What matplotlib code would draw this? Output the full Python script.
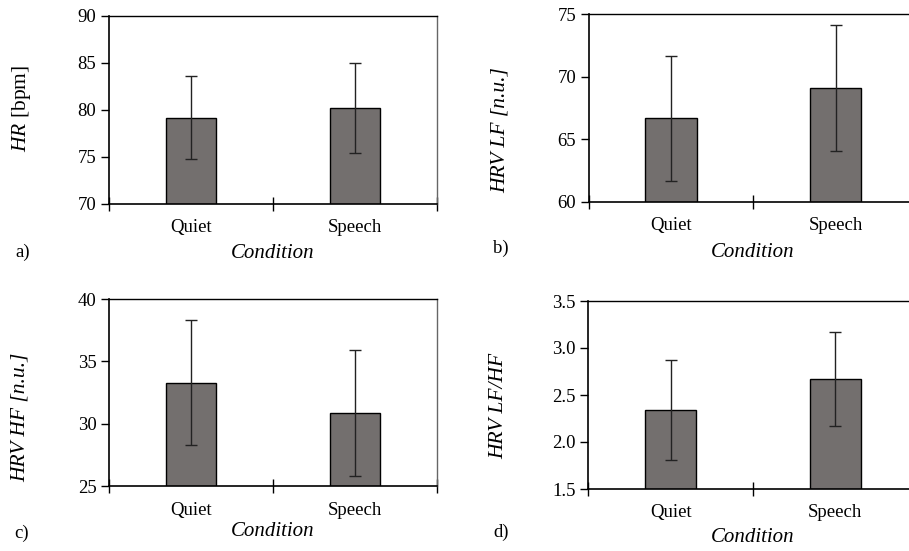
import matplotlib
matplotlib.use("Agg")
import matplotlib.pyplot as plt

plt.rcParams['font.family'] = ['Liberation Serif', 'DejaVu Serif']
plt.rcParams['mathtext.fontset'] = 'custom'
plt.rcParams['mathtext.rm'] = 'Liberation Serif'
plt.rcParams['mathtext.it'] = 'Liberation Serif:italic'

categories = ["Quiet", "Speech"]
hr_mean = [79.2, 80.2]
hr_err = [4.4, 4.8]
lf_mean = [66.7, 69.1]
lf_err = [5.0, 5.05]
hf_mean = [33.3, 30.9]
hf_err = [5.0, 5.05]
ratio_mean = [2.34, 2.67]
ratio_err = [0.53, 0.5]

W, H = 909, 551
fig = plt.figure(figsize=(W / 100, H / 100), dpi=100)

def px_axes(left, top, right, bottom):
    return fig.add_axes([left / W, 1 - bottom / H, (right - left) / W, (bottom - top) / H])

def ftext(x, y, s, **kw):
    fig.text(x / W, 1 - y / H, s, ha="center", va="center", **kw)

panels = [
    dict(rect=(109, 16, 437, 204), mean=hr_mean, err=hr_err, ylim=(70, 90), yticks=[70, 75, 80, 85, 90],
         fmt="{:.0f}", ylabel=r"$\mathit{HR}$ [bpm]", ylab_style="normal", ylab_xy=(21.5, 108),
         xlab_xy=(273, 254), tag="a)", tag_xy=(23, 252), right_spine=True),
    dict(rect=(588.7, 14.3, 917.9, 202), mean=lf_mean, err=lf_err, ylim=(60, 75), yticks=[60, 65, 70, 75],
         fmt="{:.0f}", ylabel="HRV LF [n.u.]", ylab_style="italic", ylab_xy=(500, 130),
         xlab_xy=(753, 252.5), tag="b)", tag_xy=(501, 248), right_spine=False),
    dict(rect=(109, 299, 437, 486.3), mean=hf_mean, err=hf_err, ylim=(25, 40), yticks=[25, 30, 35, 40],
         fmt="{:.0f}", ylabel="HRV HF [n.u.]", ylab_style="italic", ylab_xy=(20, 417.5),
         xlab_xy=(273, 532), tag="c)", tag_xy=(22, 533), right_spine=True),
    dict(rect=(588.3, 301, 917.5, 489), mean=ratio_mean, err=ratio_err, ylim=(1.5, 3.5),
         yticks=[1.5, 2.0, 2.5, 3.0, 3.5], fmt="{:.1f}", ylabel="HRV LF/HF", ylab_style="italic",
         ylab_xy=(498.5, 406), xlab_xy=(753, 538), tag="d)", tag_xy=(501, 532), right_spine=False),
]

xpos = [0.5, 1.5]
for p in panels:
    ax = px_axes(*p["rect"])
    ax.bar(xpos, p["mean"], width=0.31, color="#736f6e", edgecolor="black", linewidth=1.0, zorder=2)
    ax.errorbar(xpos, p["mean"], yerr=p["err"], fmt="none", ecolor="#222222", elinewidth=1.0,
                capsize=4, capthick=1.0, zorder=3)
    ax.set_xlim(0, 2)
    ax.set_ylim(*p["ylim"])
    ax.set_yticks(p["yticks"])
    ax.set_yticklabels([p["fmt"].format(v) for v in p["yticks"]], fontsize=13.5)
    ax.set_xticks([0, 1, 2])
    ax.set_xticklabels([])
    ax.set_xticks(xpos, minor=True)
    ax.set_xticklabels(categories, minor=True, fontsize=13.5)
    ax.tick_params(axis="x", which="major", direction="inout", length=10, width=1)
    ax.tick_params(axis="x", which="minor", length=0, pad=11)
    ax.tick_params(axis="y", direction="out", length=6, width=1, pad=3)
    for s in ["left", "bottom"]:
        ax.spines[s].set_linewidth(1.2)
        ax.spines[s].set_color("black")
    ax.spines["top"].set_linewidth(1.0)
    ax.spines["top"].set_color("black")
    if p["right_spine"]:
        ax.spines["right"].set_color("#666666")
        ax.spines["right"].set_linewidth(1.0)
    else:
        ax.spines["right"].set_visible(False)
    ftext(*p["ylab_xy"], p["ylabel"], fontsize=15.5, style=p["ylab_style"], rotation=90)
    ftext(*p["xlab_xy"], "Condition", fontsize=15, style="italic")
    ftext(*p["tag_xy"], p["tag"], fontsize=13.5)

fig.savefig("out.png", dpi=100)
